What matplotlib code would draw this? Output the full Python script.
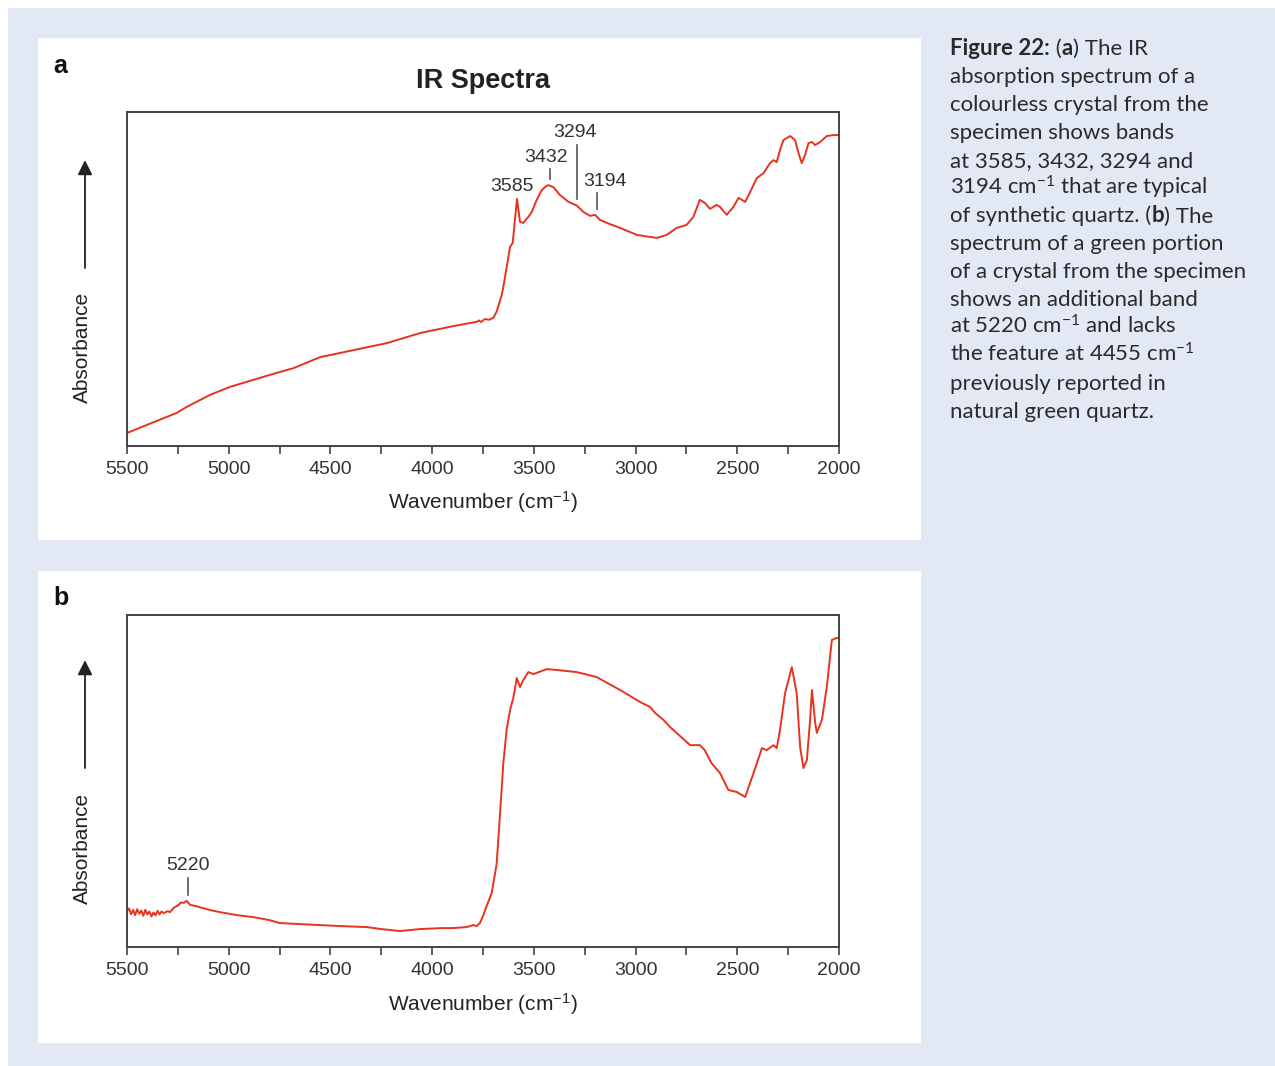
import matplotlib
matplotlib.use("Agg")
import matplotlib.pyplot as plt
from matplotlib.patches import Rectangle
from matplotlib.ticker import MultipleLocator

plt.rcParams['font.family'] = ['Liberation Sans', 'DejaVu Sans']
plt.rcParams['mathtext.default'] = 'regular'

# spectrum a (colourless crystal), wavenumber in cm-1, absorbance in arbitrary units
wn_a = [5500, 5403, 5256, 5207, 5092, 4994, 4879, 4764, 4682, 4551, 4387, 4223,
        4060, 3896, 3780, 3770, 3760, 3748, 3740, 3720, 3699, 3683, 3658, 3650,
        3617, 3604, 3593, 3583, 3568, 3552, 3527, 3510, 3486, 3461, 3440, 3428,
        3404, 3371, 3330, 3289, 3257, 3224, 3199, 3175, 3142, 3076, 2994, 2929,
        2896, 2847, 2798, 2749, 2716, 2684, 2660, 2634, 2601, 2585, 2552, 2519,
        2494, 2461, 2437, 2404, 2371, 2339, 2322, 2306, 2290, 2273, 2240, 2216,
        2199, 2183, 2167, 2150, 2133, 2117, 2093, 2060, 2027, 2000]
abs_a = [0.039, 0.063, 0.099, 0.117, 0.153, 0.177, 0.198, 0.219, 0.233, 0.266, 0.287, 0.308,
         0.338, 0.359, 0.372, 0.376, 0.371, 0.377, 0.380, 0.378, 0.384, 0.402, 0.452, 0.476,
         0.596, 0.608, 0.677, 0.740, 0.671, 0.668, 0.686, 0.701, 0.737, 0.766, 0.778, 0.781,
         0.775, 0.751, 0.731, 0.720, 0.701, 0.689, 0.692, 0.677, 0.668, 0.653, 0.632, 0.626,
         0.623, 0.632, 0.653, 0.662, 0.686, 0.737, 0.728, 0.710, 0.722, 0.716, 0.692, 0.716,
         0.743, 0.731, 0.760, 0.802, 0.817, 0.847, 0.856, 0.850, 0.886, 0.916, 0.928, 0.916,
         0.877, 0.847, 0.871, 0.907, 0.910, 0.901, 0.910, 0.928, 0.931, 0.931]

# spectrum b (green portion)
wn_b = [5500, 5490, 5480, 5470, 5460, 5450, 5440, 5430, 5420, 5410, 5400, 5390,
        5380, 5370, 5360, 5350, 5340, 5330, 5320, 5300, 5289, 5270, 5248, 5235,
        5220, 5207, 5190, 5160, 5125, 5090, 5043, 4960, 4879, 4800, 4748, 4650,
        4551, 4450, 4322, 4250, 4158, 4060, 3950, 3896, 3830, 3798, 3780, 3770,
        3765, 3748, 3740, 3724, 3707, 3683, 3666, 3650, 3634, 3617, 3601, 3584,
        3568, 3552, 3527, 3502, 3437, 3380, 3289, 3191, 3076, 2994, 2978, 2929,
        2904, 2863, 2831, 2732, 2684, 2660, 2627, 2585, 2544, 2503, 2461, 2420,
        2379, 2355, 2322, 2306, 2290, 2265, 2232, 2208, 2191, 2175, 2158, 2142,
        2133, 2117, 2109, 2084, 2060, 2035, 2011, 2000]
abs_b = [0.108, 0.116, 0.099, 0.112, 0.096, 0.114, 0.100, 0.110, 0.094, 0.112, 0.098, 0.107,
         0.092, 0.104, 0.095, 0.109, 0.098, 0.107, 0.102, 0.108, 0.105, 0.118, 0.126, 0.134,
         0.133, 0.139, 0.127, 0.123, 0.117, 0.111, 0.105, 0.096, 0.090, 0.081, 0.072, 0.069,
         0.066, 0.063, 0.060, 0.054, 0.048, 0.054, 0.057, 0.057, 0.060, 0.066, 0.063, 0.070,
         0.072, 0.096, 0.111, 0.136, 0.163, 0.250, 0.404, 0.554, 0.654, 0.714, 0.750, 0.810,
         0.783, 0.804, 0.828, 0.822, 0.837, 0.834, 0.828, 0.813, 0.774, 0.744, 0.738, 0.723,
         0.705, 0.684, 0.663, 0.608, 0.608, 0.593, 0.554, 0.524, 0.473, 0.467, 0.452, 0.524,
         0.599, 0.593, 0.608, 0.599, 0.654, 0.765, 0.843, 0.765, 0.602, 0.539, 0.563, 0.684,
         0.774, 0.675, 0.645, 0.684, 0.783, 0.925, 0.931, 0.931]

bands_a = ["3585", "3432", "3294", "3194"]
bands_b = ["5220"]

caption = [
    [("Figure 22:", "bold"), (" (", "normal"), ("a", "bold"), (") The IR", "normal")],
    [("absorption spectrum of a", "normal")],
    [("colourless crystal from the", "normal")],
    [("specimen shows bands", "normal")],
    [("at 3585, 3432, 3294 and", "normal")],
    [("3194 cm$^{-1}$ that are typical", "normal")],
    [("of synthetic quartz. (", "normal"), ("b", "bold"), (") The", "normal")],
    [("spectrum of a green portion", "normal")],
    [("of a crystal from the specimen", "normal")],
    [("shows an additional band", "normal")],
    [("at 5220 cm$^{-1}$ and lacks", "normal")],
    [("the feature at 4455 cm$^{-1}$", "normal")],
    [("previously reported in", "normal")],
    [("natural green quartz.", "normal")],
]

W, H = 1275, 1066
fig = plt.figure(figsize=(W / 100, H / 100), dpi=100)
fig.patch.set_facecolor("white")

def fx(px):
    return px / W

def fy(py):
    return 1 - py / H

# backgrounds
fig.patches.append(Rectangle((fx(8), 0), 1, fy(8), transform=fig.transFigure,
                             facecolor="#e2e9f5", edgecolor="none", zorder=-3))
for top, bottom in [(38, 540), (571, 1043)]:
    fig.patches.append(Rectangle((fx(38), fy(bottom)), fx(921) - fx(38), fy(top) - fy(bottom),
                                 transform=fig.transFigure, facecolor="white",
                                 edgecolor="none", zorder=-2))

red = "#e8321e"
dark = "#333333"

ax_a = fig.add_axes([fx(127), fy(446), fx(839) - fx(127), fy(112) - fy(446)])
ax_b = fig.add_axes([fx(127), fy(947), fx(839) - fx(127), fy(615) - fy(947)])

for ax, wn, ab in [(ax_a, wn_a, abs_a), (ax_b, wn_b, abs_b)]:
    ax.plot(wn, ab, color=red, lw=1.4)
    ax.set_xlim(5500, 2000)
    ax.set_ylim(0, 1)
    ax.set_yticks([])
    ax.xaxis.set_major_locator(MultipleLocator(500))
    ax.xaxis.set_minor_locator(MultipleLocator(250))
    ax.tick_params(axis="x", which="both", direction="out", length=6, width=1.1,
                   color=dark, labelsize=14, labelcolor=dark, pad=5)
    for s in ax.spines.values():
        s.set_color("#444444")
        s.set_linewidth(1.4)
    ax.set_facecolor("white")
    ax.set_xlabel("Wavenumber (cm$^{-1}$)", fontsize=15, color="#222222")
    ax.xaxis.label.set_va("center")
    ax.set_ylabel("Absorbance", fontsize=15, color="#222222")
    ax.yaxis.label.set_va("center")

ax_a.xaxis.set_label_coords(0.5, -0.168)
ax_b.xaxis.set_label_coords(0.5, -0.172)
ax_a.yaxis.set_label_coords(-0.062, 0.296)
ax_b.yaxis.set_label_coords(-0.062, 0.298)

# arrows along the absorbance axis
for ax, y0, y1 in [(ax_a, 0.533, 0.856), (ax_b, 0.539, 0.864)]:
    ax.annotate("", xy=(-0.059, y1), xytext=(-0.059, y0), xycoords="axes fraction",
                annotation_clip=False,
                arrowprops=dict(arrowstyle="-|>", color="#222222", lw=1.3,
                                mutation_scale=22, shrinkA=0, shrinkB=0))

ax_a.set_title("IR Spectra", fontsize=19.5, fontweight="bold", color="#222222", pad=17)

# band labels
ann = dict(fontsize=14, color=dark, ha="center", va="center")
tick_kw = dict(color="#555555", lw=1.2)
ax_a.text(3607, 0.778, bands_a[0], **ann)
ax_a.text(3440, 0.865, bands_a[1], **ann)
ax_a.plot([3420, 3420], [0.799, 0.829], **tick_kw)
ax_a.text(3297, 0.940, bands_a[2], **ann)
ax_a.plot([3288, 3288], [0.740, 0.901], **tick_kw)
ax_a.text(3150, 0.793, bands_a[3], **ann)
ax_a.plot([3189, 3189], [0.710, 0.757], **tick_kw)

ax_b.text(5200, 0.244, bands_b[0], **ann)
ax_b.plot([5200, 5200], [0.157, 0.208], **tick_kw)

# panel letters
fig.text(fx(60), fy(66), "a", fontsize=18, fontweight="bold", color="#111111",
         ha="center", va="center")
fig.text(fx(61), fy(598), "b", fontsize=18, fontweight="bold", color="#111111",
         ha="center", va="center")

# caption
renderer = fig.canvas.get_renderer()
cap_font = ["Lato", "DejaVu Sans"]
for i, line in enumerate(caption):
    x = fx(950)
    y = fy(55 + 27.9 * i)
    for s, w in line:
        t = fig.text(x, y, s, fontsize=16, fontweight=w, family=cap_font,
                     color="#2a2a2a", va="baseline", ha="left")
        bb = t.get_window_extent(renderer=renderer)
        x += bb.width / fig.bbox.width

fig.savefig("out.png", dpi=100)
